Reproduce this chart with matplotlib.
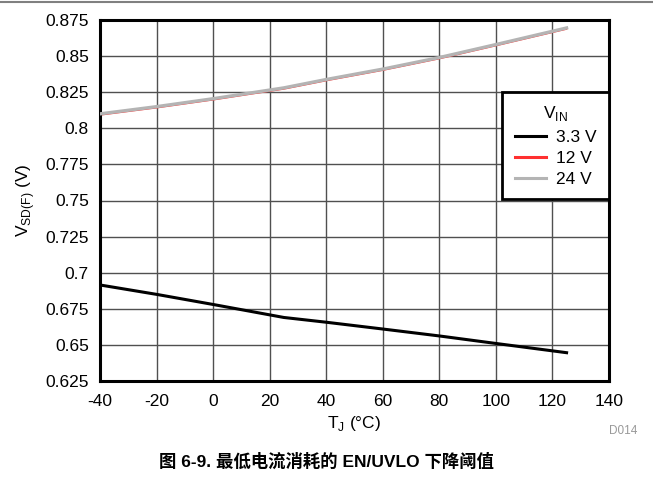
import matplotlib.pyplot as plt

plt.rcParams['font.family'] = ['Liberation Sans', 'Noto Sans CJK SC', 'DejaVu Sans']
plt.rcParams['axes.unicode_minus'] = False

# junction temperature (°C)
temp = [-40, -20, 0, 25, 40, 60, 80, 100, 125]
# falling EN/UVLO threshold (V)
v_3v3 = [0.6915, 0.685, 0.678, 0.669, 0.6657, 0.661, 0.6562, 0.651, 0.6446]
v_12 = [0.8092, 0.8142, 0.8197, 0.8272, 0.8330, 0.8402, 0.8482, 0.8572, 0.8687]
v_24 = [0.8100, 0.8150, 0.8205, 0.8280, 0.8338, 0.8410, 0.8490, 0.8580, 0.8695]

xticks = [-40, -20, 0, 20, 40, 60, 80, 100, 120, 140]
yticks = [0.625, 0.65, 0.675, 0.7, 0.725, 0.75, 0.775, 0.8, 0.825, 0.85, 0.875]
ytick_labels = ['0.625', '0.65', '0.675', '0.7', '0.725', '0.75', '0.775', '0.8', '0.825', '0.85', '0.875']

fig = plt.figure(figsize=(6.53, 4.8), dpi=100)
ax = fig.add_axes([100 / 653, 1 - 381 / 480, 509 / 653, 361 / 480])

ax.plot(temp, v_3v3, color='black', lw=2.2, label='3.3 V')
ax.plot(temp, v_24, color='#b4b4b4', lw=2.4, label='24 V', zorder=3)
ax.plot(temp, v_12, color='#ff3030', lw=1.0, label='12 V', zorder=2)

ax.set_xlim(-40, 140)
ax.set_ylim(0.625, 0.875)
ax.set_xticks(xticks)
ax.set_yticks(yticks)
ax.set_yticklabels(ytick_labels)
ax.tick_params(length=0, labelsize=12.5)
ax.tick_params(axis='x', pad=9)
ax.tick_params(axis='y', pad=8)
ax.grid(True, color='#505050', lw=1.0)
for s in ax.spines.values():
    s.set_linewidth(2.2)

ax.set_xlabel('T$_\\mathregular{J}$ (°C)', fontsize=12.5, labelpad=4)
ax.set_ylabel('V$_\\mathregular{SD(F)}$ (V)', fontsize=12.5, labelpad=6)

# legend order: 3.3 V, 12 V, 24 V
h, l = ax.get_legend_handles_labels()
order = [0, 2, 1]
leg = ax.legend([h[i] for i in order], [l[i] for i in order],
                title='V$_\\mathregular{IN}$', loc='upper right',
                bbox_to_anchor=(1.0, 0.80), borderaxespad=0,
                fontsize=12.5, title_fontsize=12.5,
                frameon=True, fancybox=False, framealpha=1,
                edgecolor='black', handlelength=1.8, labelspacing=0.35,
                borderpad=0.7, handletextpad=0.6)
leg.get_frame().set_linewidth(2.0)
for line in leg.get_lines():
    line.set_linewidth(2.2)

fig.text(623 / 653, 1 - 431 / 480, 'D014', fontsize=8.5, color='#999999', ha='center', va='center')
fig.text(0.5, 1 - 461 / 480, '图 6-9. 最低电流消耗的 EN/UVLO 下降阈值',
         fontsize=12.5, fontweight='bold', ha='center', va='center')
fig.add_artist(plt.Line2D([0, 1], [1 - 2 / 480, 1 - 2 / 480], color='#808080', lw=1.5))

fig.savefig('out.png', dpi=100)
